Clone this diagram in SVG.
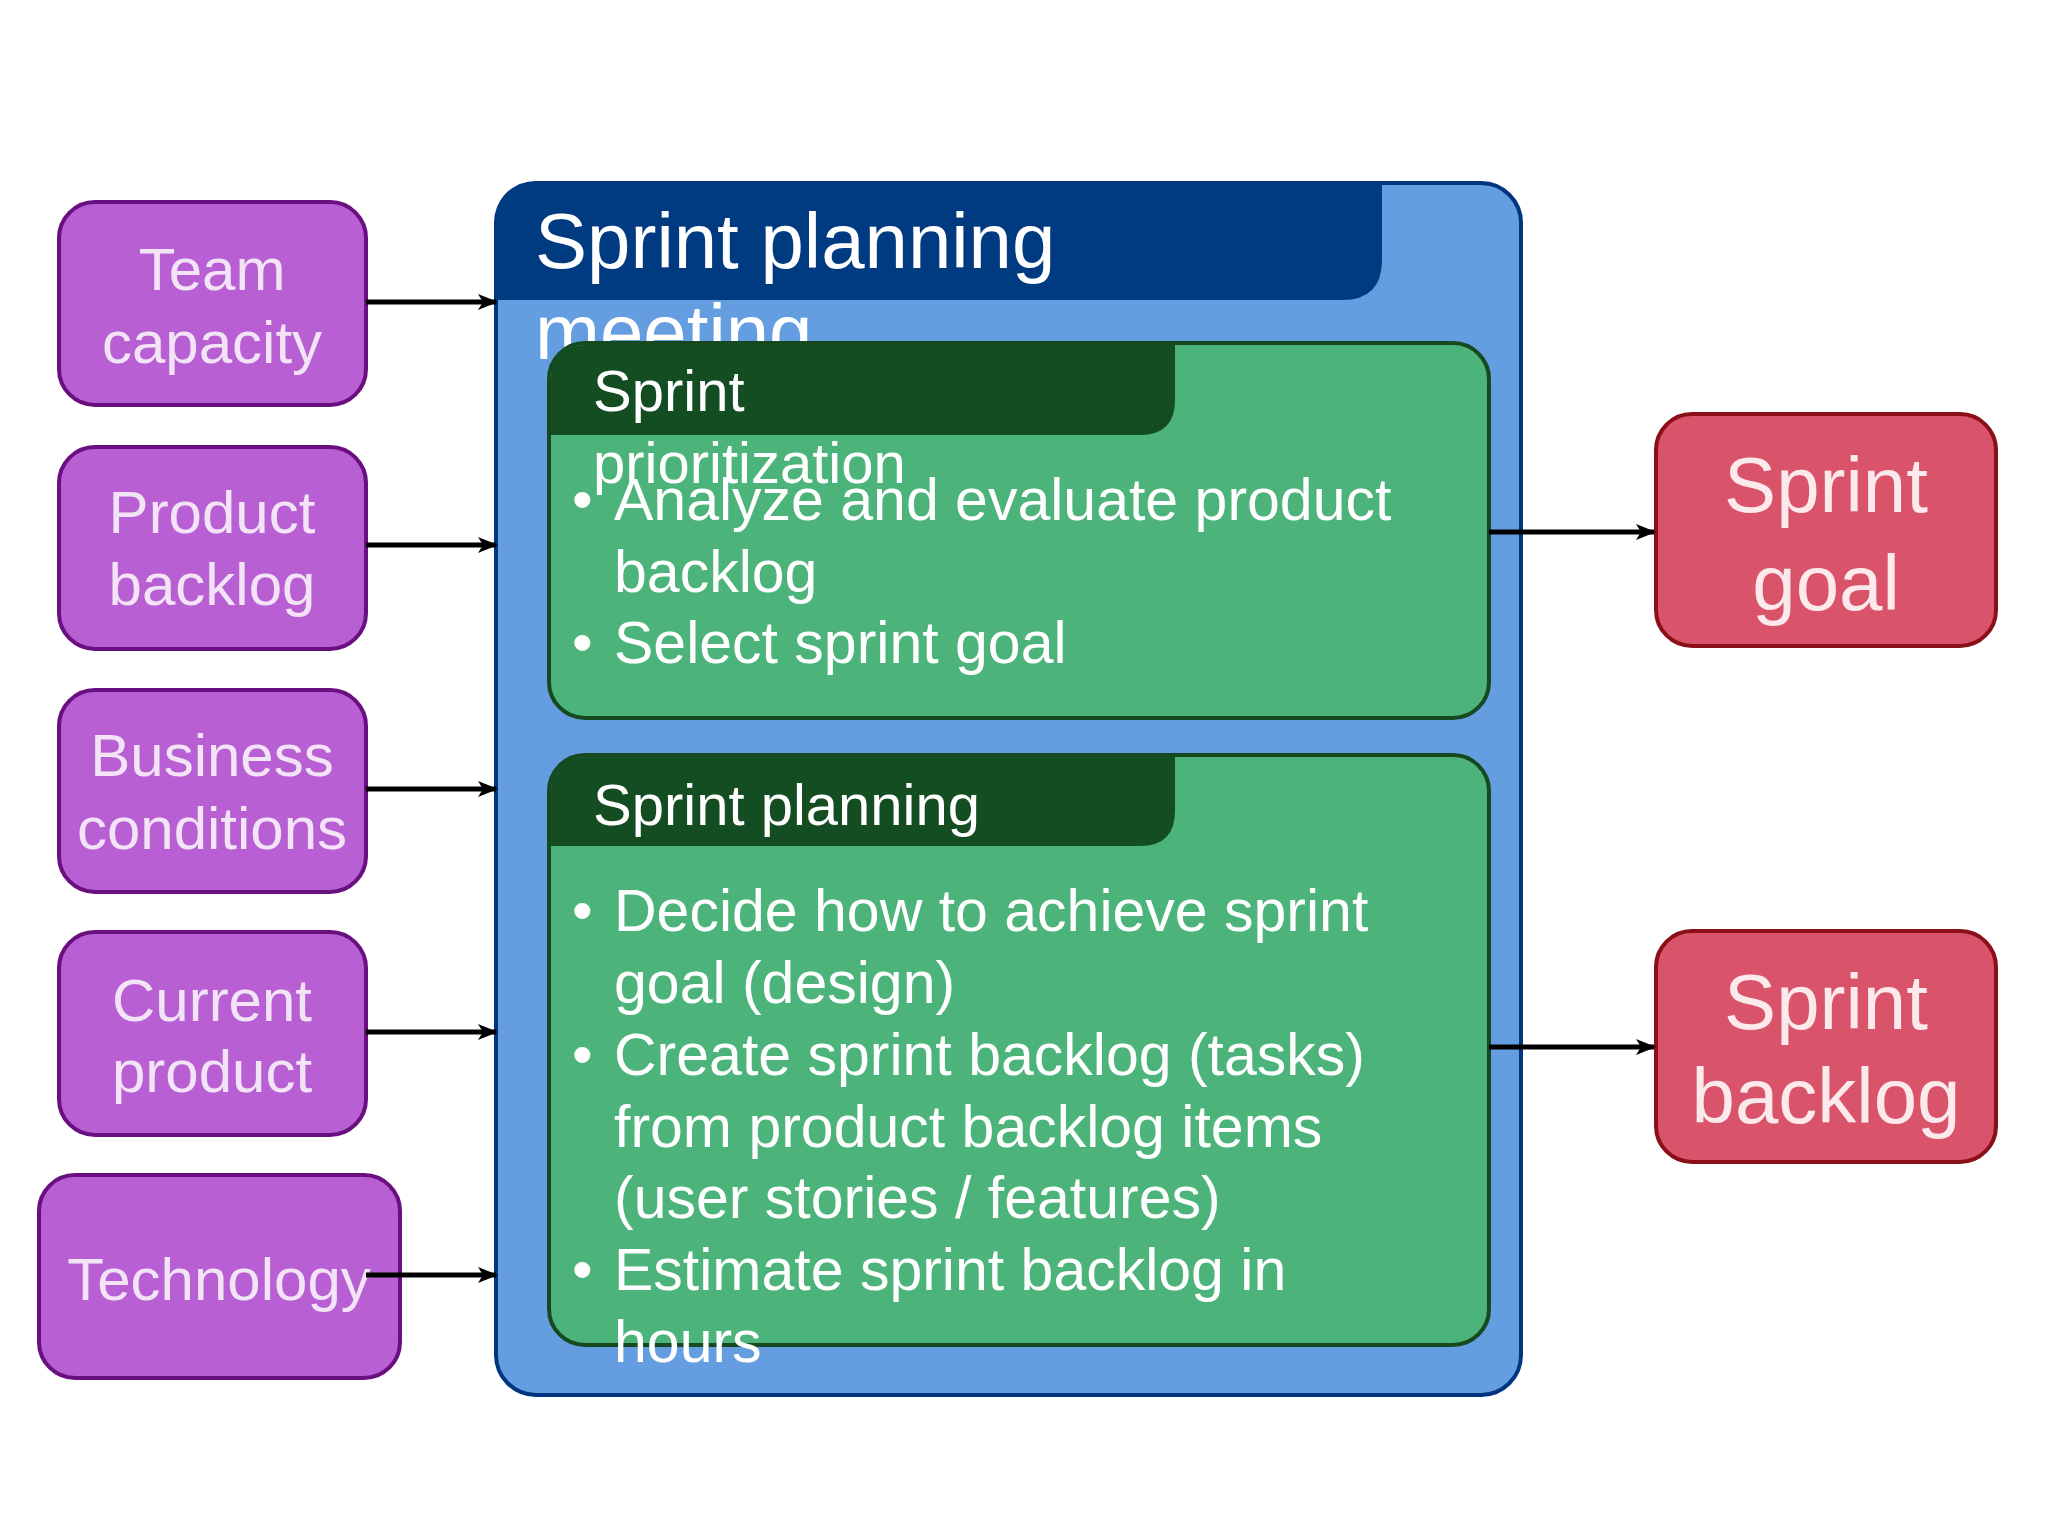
<svg xmlns="http://www.w3.org/2000/svg" width="2048" height="1536" viewBox="0 0 2048 1536">
<defs>
<marker id="ah" markerWidth="20" markerHeight="16" refX="18" refY="8" orient="auto" markerUnits="userSpaceOnUse"><path d="M0,0 L20,8 L0,16 L5,8 Z" fill="#000"/></marker>
<style>
.in{fill:#b85fd3;stroke:#6a0f80;stroke-width:4}
.it{font-family:"Liberation Sans",Arial,sans-serif;font-size:60px;fill:#f3e3f7;text-anchor:middle}
.out{fill:#d9536a;stroke:#8a0f18;stroke-width:4}
.ot{font-family:"Liberation Sans",Arial,sans-serif;font-size:78px;fill:#fbe9ec;text-anchor:middle}
.g{fill:#4cb47a;stroke:#16491f;stroke-width:4}
.gh{fill:#144d22}
.ht{font-family:"Liberation Sans",Arial,sans-serif;font-size:58px;fill:#fff}
.bt{font-family:"Liberation Sans",Arial,sans-serif;font-size:59px;fill:#fff}
.c{stroke:#000;stroke-width:5;fill:none;marker-end:url(#ah)}
</style>
</defs>
<rect width="2048" height="1536" fill="#fff"/>
<g id="main">
<rect x="496" y="183" width="1025" height="1212" rx="40" fill="#659ee0" stroke="#003580" stroke-width="4"/>
<path d="M496,300 L496,223 Q496,183 536,183 L1382,183 L1382,260 Q1382,300 1342,300 Z" fill="#003a80"/>
<text x="535" y="268" font-family="Liberation Sans,Arial,sans-serif" font-size="78" fill="#fff">Sprint planning</text>
<text x="535" y="359" font-family="Liberation Sans,Arial,sans-serif" font-size="78" fill="#fff">meeting</text>
</g>
<g id="prio">
<rect class="g" x="549" y="343" width="940" height="375" rx="36"/>
<path class="gh" d="M551,435 L551,379 Q551,345 585,345 L1175,345 L1175,400 Q1175,435 1140,435 Z"/>
<text class="ht" x="593" y="411">Sprint</text>
<text class="ht" x="593" y="483">prioritization</text>
<text class="bt" x="572" y="520">•</text><text class="bt" x="614" y="520">Analyze and evaluate product</text>
<text class="bt" x="614" y="592">backlog</text>
<text class="bt" x="572" y="663">•</text><text class="bt" x="614" y="663">Select sprint goal</text>
</g>
<g id="plan">
<rect class="g" x="549" y="755" width="940" height="590" rx="36"/>
<path class="gh" d="M551,846 L551,791 Q551,757 585,757 L1175,757 L1175,811 Q1175,846 1140,846 Z"/>
<text class="ht" x="593" y="825">Sprint planning</text>
<text class="bt" x="572" y="931">•</text><text class="bt" x="614" y="931">Decide how to achieve sprint</text>
<text class="bt" x="614" y="1003">goal (design)</text>
<text class="bt" x="572" y="1075">•</text><text class="bt" x="614" y="1075">Create sprint backlog (tasks)</text>
<text class="bt" x="614" y="1147">from product backlog items</text>
<text class="bt" x="614" y="1218">(user stories / features)</text>
<text class="bt" x="572" y="1290">•</text><text class="bt" x="614" y="1290">Estimate sprint backlog in</text>
<text class="bt" x="614" y="1362">hours</text>
</g>
<g id="team"><rect class="in" x="59" y="202" width="307" height="203" rx="36"/><text class="it" x="212" y="290">Team</text><text class="it" x="212" y="363">capacity</text></g>
<g id="pb"><rect class="in" x="59" y="447" width="307" height="202" rx="36"/><text class="it" x="212" y="533">Product</text><text class="it" x="212" y="605">backlog</text></g>
<g id="bc"><rect class="in" x="59" y="690" width="307" height="202" rx="36"/><text class="it" x="212" y="776">Business</text><text class="it" x="212" y="849">conditions</text></g>
<g id="cp"><rect class="in" x="59" y="932" width="307" height="203" rx="36"/><text class="it" x="212" y="1021">Current</text><text class="it" x="212" y="1092">product</text></g>
<g id="tech"><rect class="in" x="39" y="1175" width="361" height="203" rx="36"/><text class="it" x="219" y="1300">Technology</text></g>
<g id="sg"><rect class="out" x="1656" y="414" width="340" height="232" rx="36"/><text class="ot" x="1826" y="512">Sprint</text><text class="ot" x="1826" y="610">goal</text></g>
<g id="sb"><rect class="out" x="1656" y="931" width="340" height="231" rx="36"/><text class="ot" x="1826" y="1029">Sprint</text><text class="ot" x="1826" y="1123">backlog</text></g>
<g id="connectors">
<line class="c" x1="366" y1="302" x2="496" y2="302"/>
<line class="c" x1="366" y1="545" x2="496" y2="545"/>
<line class="c" x1="366" y1="789" x2="496" y2="789"/>
<line class="c" x1="366" y1="1032" x2="496" y2="1032"/>
<line class="c" x1="366" y1="1275" x2="496" y2="1275"/>
<line class="c" x1="1489" y1="532" x2="1654" y2="532"/>
<line class="c" x1="1489" y1="1047" x2="1654" y2="1047"/>
</g>
</svg>
